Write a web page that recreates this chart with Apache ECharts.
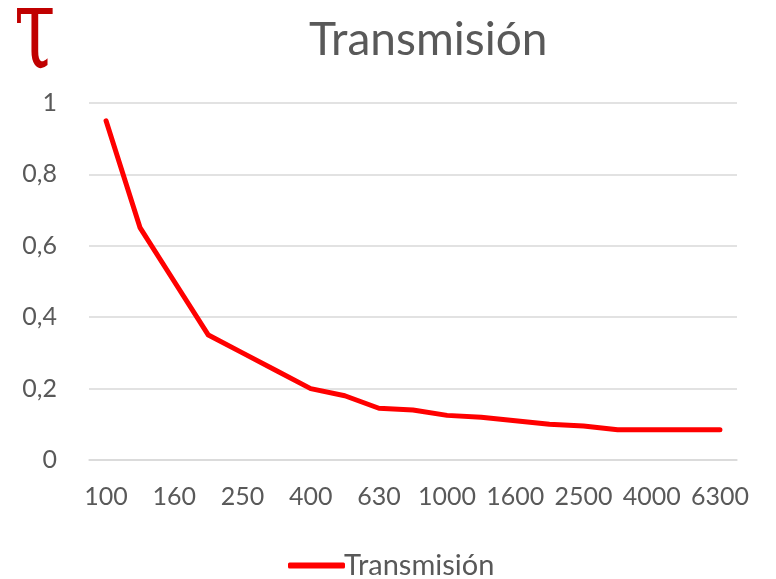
<!DOCTYPE html>
<html>
<head>
<meta charset="utf-8">
<script src="https://cdn.jsdelivr.net/npm/echarts@6/dist/echarts.min.js"></script>
<style>html,body{margin:0;padding:0;background:#fff;}#c{width:776px;height:579px;}</style>
</head>
<body>
<div id="c"></div>
<script>
const categories = ['100','125','160','200','250','315','400','500','630','800','1000','1250','1600','2000','2500','3150','4000','5000','6300'];
const transmision = [0.95,0.65,0.5,0.35,0.3,0.25,0.2,0.18,0.145,0.14,0.125,0.12,0.11,0.1,0.095,0.085,0.085,0.085,0.085];
const yTicks = [0,0.2,0.4,0.6,0.8,1];
const seriesName = 'Transmisión';
const titleText = 'Transmisión';
const symbolText = 'τ';

const chart = echarts.init(document.getElementById('c'), null, {renderer:'canvas'});
const font = 'Lato';
chart.setOption({
  backgroundColor:'#ffffff',
  animation:false,
  title:{
    text:titleText, left:304, top:12,
    textStyle:{fontFamily:font, fontSize:46, fontWeight:'normal', color:'#595959'}
  },
  graphic:[{
    type:'text', x:14, y:-20, scaleX:0.75, scaleY:1.15,
    style:{text:symbolText, fontFamily:'DejaVu Serif', fontSize:100, fill:'#c00000'}
  }],
  legend:{
    data:[seriesName], top:546, left:283,
    icon:'roundRect', itemWidth:57, itemHeight:6, itemGap:10,
    textStyle:{fontFamily:font, fontSize:29, color:'#595959', padding:[0,0,0,-6]}
  },
  grid:{left:89, right:39, top:103, bottom:119},
  xAxis:{
    type:'category', data:categories, boundaryGap:true,
    axisLine:{show:true, lineStyle:{color:'#d9d9d9', width:1.5}},
    axisTick:{show:false},
    axisLabel:{interval:1, fontFamily:font, fontSize:25, color:'#595959', margin:24}
  },
  yAxis:{
    type:'value', min:0, max:1, interval:0.2,
    axisLine:{show:false}, axisTick:{show:false},
    splitLine:{lineStyle:{color:'#d9d9d9', width:1.5}},
    axisLabel:{fontFamily:font, fontSize:25, color:'#595959', margin:32,
      formatter:function(v){ const t = yTicks.find(x=>Math.abs(x-v)<1e-9); return String(t!==undefined?t:v).replace('.',','); }}
  },
  series:[{
    name:seriesName, type:'line', data:transmision,
    showSymbol:false, symbol:'none',
    lineStyle:{color:'#ff0000', width:5, cap:'round', join:'round'},
    itemStyle:{color:'#ff0000'}
  }]
});
</script>
</body>
</html>
